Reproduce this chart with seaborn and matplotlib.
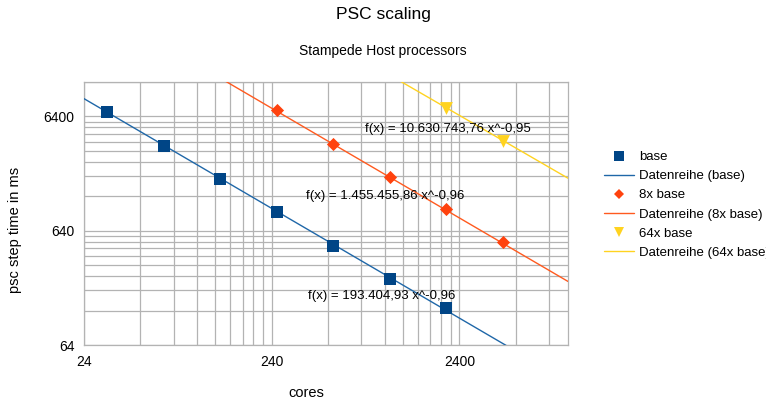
import numpy as np
import pandas as pd
import matplotlib
matplotlib.use("Agg")
import matplotlib.pyplot as plt
import seaborn as sns
from matplotlib.ticker import FixedLocator, NullFormatter, FixedFormatter
from matplotlib.lines import Line2D

# ---- data ----
base_cores = [32, 64, 128, 256, 512, 1024, 2048]
base_time = [6940, 3500, 1800, 930, 470, 241, 135]
x8_cores = [256, 512, 1024, 2048, 4096]
x8_time = [7220, 3640, 1875, 986, 508]
x64_cores = [2048, 4096]
x64_time = [7520, 3870]
series_names = ["base", "8x base", "64x base"]
trend_names = ["Datenreihe (base)", "Datenreihe (8x base)", "Datenreihe (64x base)"]
fit_coef = [193404.93, 1455455.86, 10630743.76]
fit_exp = [-0.96, -0.96, -0.95]
fit_labels = ["f(x) = 193.404,93 x^-0,96",
              "f(x) = 1.455.455,86 x^-0,96",
              "f(x) = 10.630.743,76 x^-0,95"]
x_ticks = [24, 240, 2400]
y_ticks = [64, 640, 6400]

colors = ["#004586", "#ff420e", "#ffd320"]
line_colors = ["#1f67a8", "#ff5a1f", "#ffd320"]
markers = ["s", "D", "v"]
msizes = [80, 45, 85]
leg_msizes = [7, 5.5, 7.5]

sns.set_style("white")
plt.rcParams["font.family"] = ["Liberation Sans", "DejaVu Sans"]
plt.rcParams["text.color"] = "black"
plt.rcParams["axes.labelcolor"] = "black"

fig = plt.figure(figsize=(7.66, 4.0), dpi=100)
ax = fig.add_axes([84/766, 1-345/400, (568-84)/766, (345-82)/400])
ax.set_xscale("log")
ax.set_yscale("log")
xmin, xmax = 24, 9100
ymin, ymax = 64, 12800
ax.set_xlim(xmin, xmax)
ax.set_ylim(ymin, ymax)

# grid: major + minor (multiples of start value)
gc = "#b3b3b3"
xminor = [24 * k * d for d in (1, 10, 100) for k in range(2, 10)]
yminor = [64 * k * d for d in (1, 10, 100) for k in range(2, 10)]
ax.xaxis.set_major_locator(FixedLocator(x_ticks))
ax.xaxis.set_major_formatter(FixedFormatter([str(v) for v in x_ticks]))
ax.xaxis.set_minor_locator(FixedLocator(xminor))
ax.xaxis.set_minor_formatter(NullFormatter())
ax.yaxis.set_major_locator(FixedLocator(y_ticks))
ax.yaxis.set_major_formatter(FixedFormatter([str(v) for v in y_ticks]))
ax.yaxis.set_minor_locator(FixedLocator(yminor))
ax.yaxis.set_minor_formatter(NullFormatter())
ax.grid(True, which="both", color=gc, lw=0.9)
ax.set_axisbelow(True)
ax.tick_params(which="major", direction="out", length=4, color=gc, labelcolor="black",
               labelsize=10, pad=3)
ax.tick_params(which="minor", length=0)
for s in ax.spines.values():
    s.set_color(gc)
    s.set_linewidth(0.9)

# trend lines
xs = np.geomspace(xmin, xmax, 300)
for i in range(3):
    ys = fit_coef[i] * xs ** fit_exp[i]
    sns.lineplot(x=xs, y=ys, ax=ax, color=line_colors[i], lw=1.0, zorder=3)

# data points
data_x = [base_cores, x8_cores, x64_cores]
data_y = [base_time, x8_time, x64_time]
for i in range(3):
    df = pd.DataFrame({"cores": data_x[i], "time": data_y[i]})
    sns.scatterplot(data=df, x="cores", y="time", ax=ax, marker=markers[i],
                    s=msizes[i], color=colors[i], edgecolor=colors[i], linewidth=0, zorder=4)

ax.set_xlabel("")
ax.set_ylabel("")

# equation labels
eq_pos = [(0.463, 0.186), (0.459, 0.567), (0.581, 0.821)]
for lbl, (px, py) in zip(fit_labels, eq_pos):
    ax.text(px, py, lbl, transform=ax.transAxes, ha="left", va="center", fontsize=9.5,
            color="black", zorder=5)

# titles and axis labels
fig.text(383/766, 1-15/400, "PSC scaling", ha="center", va="center", fontsize=12.5)
fig.text(383/766, 1-51/400, "Stampede Host processors", ha="center", va="center", fontsize=10)
fig.text(15/766, 1-230/400, "psc step time in ms", rotation=90, ha="center", va="center",
         fontsize=10.5)
fig.text(306/766, 1-393/400, "cores", ha="center", va="center", fontsize=10.5)

# legend
handles, labels = [], []
for i in range(3):
    handles.append(Line2D([], [], lw=0, marker=markers[i], markersize=leg_msizes[i],
                          color=colors[i], markeredgewidth=0))
    labels.append(series_names[i])
    handles.append(Line2D([], [], lw=1.0, color=line_colors[i]))
    labels.append(trend_names[i])
fig.legend(handles, labels, loc="upper left", bbox_to_anchor=(604/766, 1-151/400),
           frameon=False, fontsize=9.5, handlelength=2.3, handletextpad=0.38,
           labelspacing=0.52, borderpad=0, borderaxespad=0)

fig.savefig("out.png", dpi=100)
